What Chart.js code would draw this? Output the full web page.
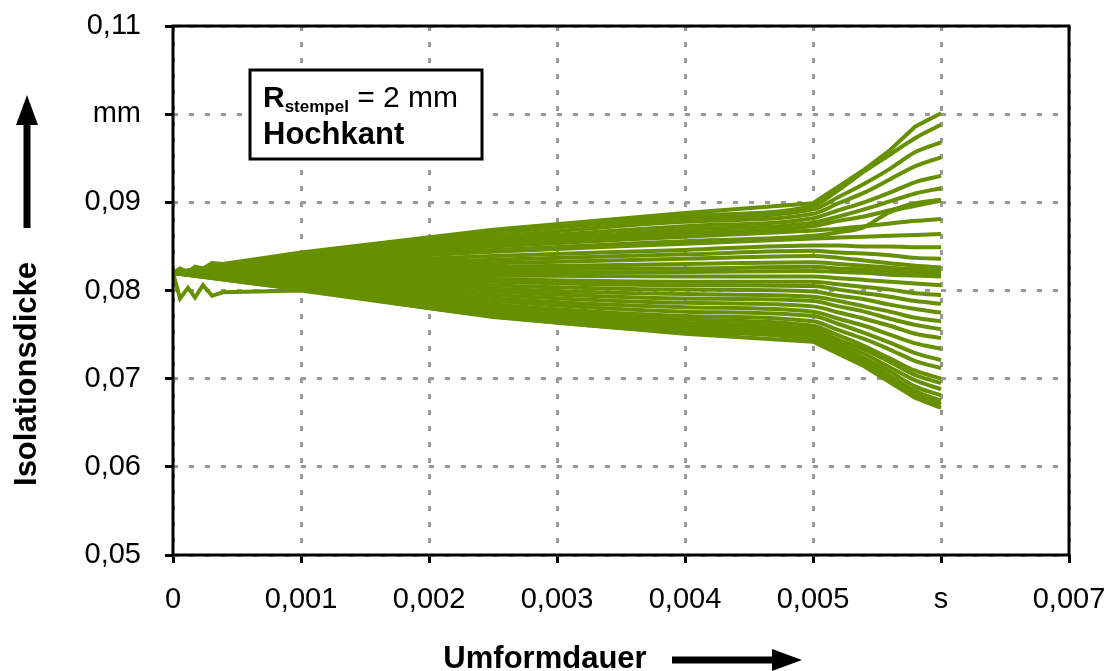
<!DOCTYPE html>
<html>
<head>
<meta charset="utf-8">
<script src="https://cdn.jsdelivr.net/npm/chart.js@4.4.0/dist/chart.umd.min.js"></script>
<style>
  html, body { margin: 0; padding: 0; background: #fff; }
</style>
</head>
<body>
<canvas id="chart" width="1117" height="671"></canvas>
<script>
const zeit = [0, 0.001, 0.0025, 0.004, 0.005, 0.0052, 0.0054, 0.0056, 0.0058, 0.006];

// Anlauf der oberen und unteren Randkurve (Zacken am Anfang)
const anlaufZeit  = [0.000055, 0.000117, 0.000172, 0.000234, 0.000305, 0.00039];
const anlaufOben  = [0.0825, 0.0821, 0.0827, 0.0825, 0.0831, 0.0830];
const anlaufUnten = [0.0791, 0.0803, 0.0792, 0.0806, 0.0794, 0.0798];

// Isolationsdicke (mm) je Kurve, Werte zu den Zeitpunkten oben
const isolationsdicke = [
  [0.0820, 0.0843, 0.0869, 0.0888, 0.0899, 0.0918, 0.0937, 0.0959, 0.0986, 0.1001],
  [0.0820, 0.0842, 0.0867, 0.0885, 0.0896, 0.0914, 0.0935, 0.0954, 0.0973, 0.0988],
  [0.0820, 0.0841, 0.0865, 0.0882, 0.0892, 0.0906, 0.0921, 0.0938, 0.0957, 0.0968],
  [0.0820, 0.0840, 0.0861, 0.0878, 0.0887, 0.0899, 0.0911, 0.0926, 0.0941, 0.0951],
  [0.0820, 0.0838, 0.0858, 0.0873, 0.0882, 0.0891, 0.0900, 0.0911, 0.0923, 0.0930],
  [0.0820, 0.0837, 0.0855, 0.0869, 0.0877, 0.0884, 0.0892, 0.0901, 0.0910, 0.0916],
  [0.0820, 0.0836, 0.0853, 0.0865, 0.0873, 0.0879, 0.0884, 0.0891, 0.0899, 0.0903],
  [0.0820, 0.0833, 0.0846, 0.0856, 0.0862, 0.0866, 0.0872, 0.0889, 0.0896, 0.0902],
  [0.0820, 0.0835, 0.0850, 0.0861, 0.0868, 0.0870, 0.0873, 0.0876, 0.0879, 0.0881],
  [0.0820, 0.0832, 0.0844, 0.0853, 0.0859, 0.0860, 0.0861, 0.0862, 0.0863, 0.0864],
  [0.0820, 0.0830, 0.0839, 0.0846, 0.0851, 0.0851, 0.0850, 0.0850, 0.0849, 0.0849],
  [0.0820, 0.0828, 0.0835, 0.0841, 0.0845, 0.0843, 0.0842, 0.0840, 0.0837, 0.0836],
  [0.0820, 0.0827, 0.0831, 0.0836, 0.0839, 0.0837, 0.0834, 0.0831, 0.0828, 0.0826],
  [0.0820, 0.0825, 0.0827, 0.0830, 0.0832, 0.0830, 0.0828, 0.0826, 0.0824, 0.0822],
  [0.0820, 0.0823, 0.0824, 0.0825, 0.0827, 0.0825, 0.0824, 0.0822, 0.0820, 0.0819],
  [0.0820, 0.0822, 0.0820, 0.0821, 0.0822, 0.0821, 0.0820, 0.0818, 0.0817, 0.0816],
  [0.0820, 0.0820, 0.0817, 0.0816, 0.0816, 0.0814, 0.0812, 0.0810, 0.0808, 0.0806],
  [0.0820, 0.0819, 0.0813, 0.0810, 0.0810, 0.0807, 0.0804, 0.0801, 0.0797, 0.0795],
  [0.0820, 0.0817, 0.0810, 0.0806, 0.0805, 0.0801, 0.0797, 0.0793, 0.0788, 0.0785],
  [0.0820, 0.0816, 0.0806, 0.0801, 0.0799, 0.0794, 0.0790, 0.0784, 0.0779, 0.0775],
  [0.0820, 0.0814, 0.0802, 0.0796, 0.0793, 0.0788, 0.0782, 0.0776, 0.0769, 0.0765],
  [0.0820, 0.0813, 0.0799, 0.0791, 0.0788, 0.0782, 0.0776, 0.0768, 0.0761, 0.0756],
  [0.0820, 0.0811, 0.0795, 0.0786, 0.0782, 0.0775, 0.0768, 0.0760, 0.0751, 0.0746],
  [0.0820, 0.0809, 0.0791, 0.0781, 0.0776, 0.0768, 0.0760, 0.0750, 0.0740, 0.0734],
  [0.0820, 0.0808, 0.0788, 0.0776, 0.0771, 0.0762, 0.0752, 0.0741, 0.0729, 0.0721],
  [0.0820, 0.0806, 0.0784, 0.0771, 0.0765, 0.0755, 0.0745, 0.0733, 0.0720, 0.0712],
  [0.0820, 0.0805, 0.0781, 0.0767, 0.0760, 0.0749, 0.0737, 0.0723, 0.0709, 0.0700],
  [0.0820, 0.0804, 0.0779, 0.0763, 0.0756, 0.0744, 0.0733, 0.0719, 0.0704, 0.0695],
  [0.0820, 0.0803, 0.0776, 0.0760, 0.0752, 0.0740, 0.0728, 0.0713, 0.0698, 0.0688],
  [0.0820, 0.0802, 0.0774, 0.0757, 0.0749, 0.0736, 0.0723, 0.0708, 0.0691, 0.0681],
  [0.0820, 0.0801, 0.0773, 0.0755, 0.0747, 0.0733, 0.0720, 0.0703, 0.0686, 0.0675],
  [0.0820, 0.0801, 0.0771, 0.0753, 0.0744, 0.0730, 0.0716, 0.0699, 0.0682, 0.0671],
  [0.0820, 0.0800, 0.0770, 0.0751, 0.0742, 0.0728, 0.0714, 0.0696, 0.0678, 0.0667]
];

// Achsenbeschriftung: Einheit steht anstelle einer Zahl
const xTicks = ['0', '0,001', '0,002', '0,003', '0,004', '0,005', 's', '0,007'];
const yTicks = ['0,05', '0,06', '0,07', '0,08', '0,09', 'mm', '0,11'];

const gruen = '#669000';
const schrift = "'Liberation Sans', Arial, sans-serif";
const letzte = isolationsdicke.length - 1;

// Punkte einer Kurve zusammenbauen
function kurve(werte, i) {
  const pts = zeit.map((x, j) => ({ x, y: werte[j] }));
  if (i === 0) {
    pts.splice(1, 0, ...anlaufZeit.map((x, j) => ({ x, y: anlaufOben[j] })));
  }
  if (i === letzte) {
    pts.splice(1, 0, ...anlaufZeit.map((x, j) => ({ x, y: anlaufUnten[j] })));
  }
  return pts;
}

const datasets = isolationsdicke.map((werte, i) => ({
  data: kurve(werte, i),
  showLine: true,
  borderColor: gruen,
  borderWidth: 4,
  pointRadius: 0,
  // Randkurven mit Zacken bleiben eckig
  cubicInterpolationMode: (i === 0 || i === letzte) ? 'default' : 'monotone',
  tension: 0,
  fill: false
}));

// Pfeil zeichnen (Schaft + Spitze)
function pfeil(ctx, x1, y1, x2, y2, dicke, kopfL, kopfB) {
  const ang = Math.atan2(y2 - y1, x2 - x1);
  const len = Math.hypot(x2 - x1, y2 - y1);
  ctx.save();
  ctx.translate(x1, y1);
  ctx.rotate(ang);
  ctx.fillStyle = '#000';
  ctx.fillRect(0, -dicke / 2, len - kopfL + 1, dicke);
  ctx.beginPath();
  ctx.moveTo(len, 0);
  ctx.lineTo(len - kopfL, -kopfB / 2);
  ctx.lineTo(len - kopfL, kopfB / 2);
  ctx.closePath();
  ctx.fill();
  ctx.restore();
}

const extras = {
  id: 'extras',
  afterDraw(chart) {
    const { ctx, chartArea: a } = chart;
    ctx.save();
    // Rahmen um die Zeichenfläche
    ctx.strokeStyle = '#000';
    ctx.lineWidth = 3;
    ctx.strokeRect(a.left, a.top, a.right - a.left, a.bottom - a.top);

    // Textkasten
    ctx.fillStyle = '#fff';
    ctx.fillRect(250, 70, 232, 89);
    ctx.strokeRect(250, 70, 232, 89);
    ctx.fillStyle = '#000';
    ctx.textBaseline = 'alphabetic';
    ctx.textAlign = 'left';
    ctx.font = 'bold 30px ' + schrift;
    ctx.fillText('R', 263, 107);
    const rW = ctx.measureText('R').width;
    ctx.font = 'bold 17px ' + schrift;
    ctx.fillText('stempel', 263 + rW, 112);
    const sW = ctx.measureText('stempel').width;
    ctx.font = '30px ' + schrift;
    ctx.fillText(' = 2 mm', 263 + rW + sW, 107);
    ctx.font = 'bold 31px ' + schrift;
    ctx.fillText('Hochkant', 263, 144);

    // Achsentitel
    ctx.font = 'bold 31px ' + schrift;
    ctx.textAlign = 'center';
    ctx.textBaseline = 'middle';
    ctx.fillText('Umformdauer', 545, 659);
    pfeil(ctx, 672, 660, 802, 660, 7, 30, 22);

    ctx.save();
    ctx.translate(27, 374);
    ctx.rotate(-Math.PI / 2);
    ctx.fillText('Isolationsdicke', 0, 0);
    ctx.restore();
    pfeil(ctx, 27, 228, 27, 95, 7, 30, 22);
    ctx.restore();
  }
};

new Chart(document.getElementById('chart'), {
  type: 'scatter',
  data: { datasets },
  options: {
    responsive: false,
    animation: false,
    layout: { padding: { left: 0, right: 48, top: 26, bottom: 0 } },
    plugins: { legend: { display: false }, tooltip: { enabled: false } },
    scales: {
      x: {
        type: 'linear',
        min: 0,
        max: 0.007,
        afterFit: s => { s.height = 116; s.paddingLeft = 0; s.paddingRight = 0; },
        ticks: {
          stepSize: 0.001,
          autoSkip: false,
          maxRotation: 0,
          padding: 20,
          color: '#000',
          font: { family: schrift, size: 29 },
          callback: v => xTicks[Math.round(v * 1000)]
        },
        grid: { color: '#999', lineWidth: 3, tickColor: '#000', tickWidth: 3, tickLength: 8 },
        border: { display: false, dash: [5, 11] }
      },
      y: {
        min: 0.05,
        max: 0.11,
        afterFit: s => { s.width = 173; s.paddingTop = 0; s.paddingBottom = 0; },
        ticks: {
          stepSize: 0.01,
          autoSkip: false,
          padding: 24,
          color: '#000',
          font: { family: schrift, size: 29 },
          callback: v => yTicks[Math.round((v - 0.05) * 100)]
        },
        grid: { color: '#999', lineWidth: 3, tickColor: '#000', tickWidth: 3, tickLength: 8 },
        border: { display: false, dash: [5, 11] }
      }
    }
  },
  plugins: [extras]
});
</script>
</body>
</html>
